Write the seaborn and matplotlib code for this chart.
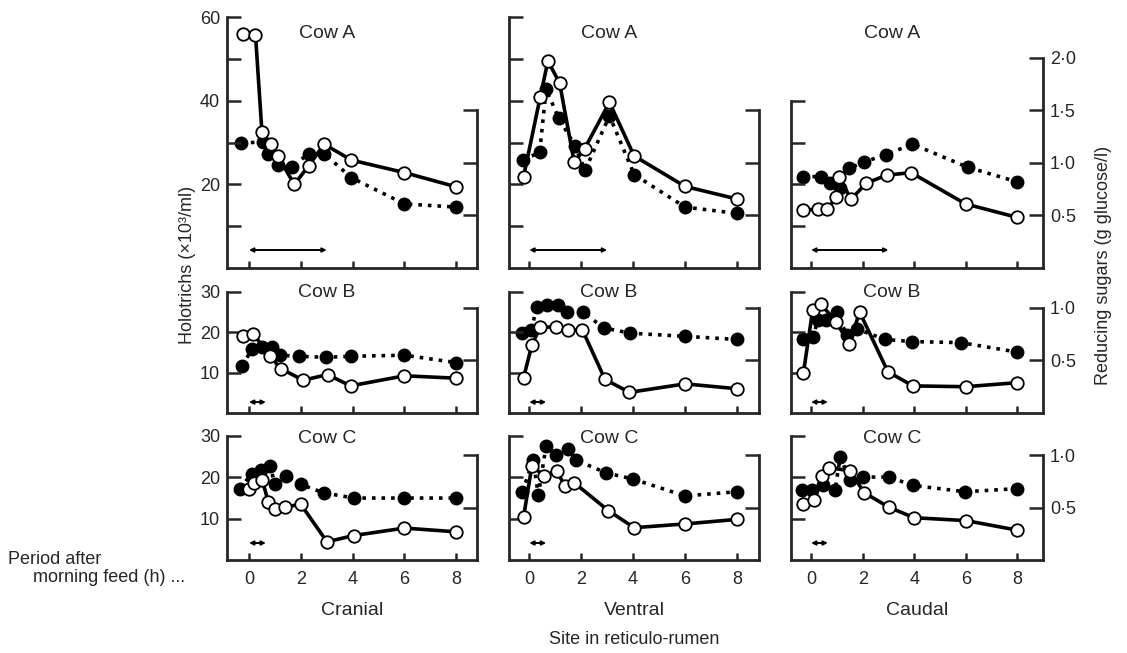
import matplotlib
matplotlib.use('Agg')
import matplotlib.pyplot as plt
import seaborn as sns

sites = ['Cranial', 'Ventral', 'Caudal']
cows = ['Cow A', 'Cow B', 'Cow C']

# open circles / solid line = holotrichs (x10^3/ml, left axis)
# filled circles / dotted line = reducing sugars (g glucose/l, right axis)
a_cranial_holo_t = [-0.25, 0.25, 0.5, 0.85, 1.1, 1.75, 2.3, 2.9, 3.95, 6, 8]
a_cranial_holo = [55.9, 55.7, 32.4, 29.6, 26.8, 20.0, 24.4, 29.6, 25.8, 22.8, 19.4]
a_cranial_sug_t = [-0.3, 0.55, 0.75, 1.1, 1.65, 2.3, 2.9, 3.95, 6, 8]
a_cranial_sug = [1.19, 1.20, 1.09, 0.98, 0.96, 1.09, 1.09, 0.86, 0.61, 0.58]

a_ventral_holo_t = [-0.22, 0.42, 0.72, 1.17, 1.73, 2.13, 3.09, 4.04, 6, 8]
a_ventral_holo = [21.8, 40.8, 49.5, 44.2, 25.3, 28.5, 39.6, 26.8, 19.5, 16.5]
a_ventral_sug_t = [-0.24, 0.4, 0.65, 1.13, 1.77, 2.15, 3.09, 4.04, 6, 8]
a_ventral_sug = [1.03, 1.10, 1.70, 1.43, 1.16, 0.93, 1.45, 0.89, 0.58, 0.52]

a_caudal_holo_t = [-0.3, 0.26, 0.63, 0.97, 1.1, 1.55, 2.14, 2.94, 3.88, 6, 8]
a_caudal_holo = [13.9, 14.0, 14.0, 16.9, 21.7, 16.4, 20.3, 22.2, 22.8, 15.3, 12.1]
a_caudal_sug_t = [-0.32, 0.39, 0.74, 1.13, 1.49, 2.06, 2.91, 3.93, 6.07, 8]
a_caudal_sug = [0.87, 0.87, 0.81, 0.76, 0.95, 1.01, 1.08, 1.18, 0.96, 0.82]

b_cranial_holo_t = [-0.24, 0.17, 0.81, 1.22, 2.09, 3.03, 3.92, 6, 8]
b_cranial_holo = [19.1, 19.5, 14.1, 11.0, 8.1, 9.5, 6.7, 9.2, 8.6]
b_cranial_sug_t = [-0.28, 0.13, 0.51, 0.9, 1.19, 1.94, 2.96, 3.95, 6, 8]
b_cranial_sug = [0.45, 0.61, 0.63, 0.63, 0.55, 0.54, 0.53, 0.54, 0.55, 0.48]

b_ventral_holo_t = [-0.22, 0.1, 0.42, 1.03, 1.49, 2.05, 2.92, 3.86, 6, 8]
b_ventral_holo = [8.7, 16.8, 21.2, 21.3, 20.5, 20.5, 8.3, 5.1, 7.2, 6.0]
b_ventral_sug_t = [-0.26, 0.08, 0.29, 0.68, 1.09, 1.47, 2.06, 2.88, 3.88, 6, 8]
b_ventral_sug = [0.76, 0.79, 1.01, 1.03, 1.03, 0.96, 0.96, 0.81, 0.76, 0.73, 0.70]

b_caudal_holo_t = [-0.3, 0.06, 0.38, 0.97, 1.49, 1.88, 2.98, 3.95, 6, 8]
b_caudal_holo = [9.8, 25.4, 26.9, 22.5, 17.0, 25.0, 10.2, 6.7, 6.5, 7.5]
b_caudal_sug_t = [-0.32, 0.09, 0.25, 0.58, 1.0, 1.39, 1.77, 2.87, 3.91, 5.81, 8]
b_caudal_sug = [0.70, 0.72, 0.89, 0.89, 0.96, 0.74, 0.80, 0.70, 0.68, 0.67, 0.58]

c_cranial_holo_t = [0.0, 0.19, 0.51, 0.74, 1.0, 1.38, 1.99, 3.01, 4.04, 6, 8]
c_cranial_holo = [17.1, 18.5, 19.3, 14.1, 12.2, 12.7, 13.5, 4.4, 5.9, 7.7, 6.8]
c_cranial_sug_t = [-0.36, 0.1, 0.45, 0.81, 1.0, 1.44, 1.99, 2.88, 4.04, 6, 8]
c_cranial_sug = [0.68, 0.82, 0.86, 0.90, 0.72, 0.80, 0.72, 0.64, 0.59, 0.59, 0.59]

c_ventral_holo_t = [-0.22, 0.1, 0.58, 1.06, 1.38, 1.74, 3.05, 4.04, 6, 8]
c_ventral_holo = [10.3, 22.7, 20.3, 21.5, 17.8, 18.6, 11.9, 7.8, 8.7, 9.8]
c_ventral_sug_t = [-0.26, 0.15, 0.35, 0.65, 1.04, 1.51, 1.81, 2.96, 4.01, 6, 8]
c_ventral_sug = [0.65, 0.95, 0.62, 1.09, 1.0, 1.06, 0.95, 0.83, 0.77, 0.61, 0.65]

c_caudal_holo_t = [-0.32, 0.12, 0.41, 0.71, 1.51, 2.07, 3.03, 4.0, 6.02, 8]
c_caudal_holo = [13.5, 14.5, 20.2, 22.3, 21.5, 16.2, 12.7, 10.2, 9.5, 7.2]
c_caudal_sug_t = [-0.36, 0.03, 0.48, 0.93, 1.13, 1.51, 2.03, 3.03, 3.95, 5.98, 8]
c_caudal_sug = [0.67, 0.67, 0.71, 0.67, 0.98, 0.76, 0.79, 0.79, 0.71, 0.65, 0.68]

# feeding period arrows (h) per row
feed_start = [0, 0, 0]
feed_end = [3, 0.65, 0.65]

# axis tops per panel (row x col)
holo_top = [[60, 60, 40], [30, 30, 30], [30, 30, 30]]
sug_top = [[1.5, 1.5, 2.0], [1.0, 1.0, 1.0], [1.0, 1.0, 1.0]]
x_ticks = [0, 2, 4, 6, 8]

panels = {
    (0, 0): (a_cranial_holo_t, a_cranial_holo, a_cranial_sug_t, a_cranial_sug),
    (0, 1): (a_ventral_holo_t, a_ventral_holo, a_ventral_sug_t, a_ventral_sug),
    (0, 2): (a_caudal_holo_t, a_caudal_holo, a_caudal_sug_t, a_caudal_sug),
    (1, 0): (b_cranial_holo_t, b_cranial_holo, b_cranial_sug_t, b_cranial_sug),
    (1, 1): (b_ventral_holo_t, b_ventral_holo, b_ventral_sug_t, b_ventral_sug),
    (1, 2): (b_caudal_holo_t, b_caudal_holo, b_caudal_sug_t, b_caudal_sug),
    (2, 0): (c_cranial_holo_t, c_cranial_holo, c_cranial_sug_t, c_cranial_sug),
    (2, 1): (c_ventral_holo_t, c_ventral_holo, c_ventral_sug_t, c_ventral_sug),
    (2, 2): (c_caudal_holo_t, c_caudal_holo, c_caudal_sug_t, c_caudal_sug),
}

sns.set_style('ticks')
plt.rcParams['font.family'] = ['Liberation Sans', 'DejaVu Sans']

W, H = 1127, 653
fig = plt.figure(figsize=(W / 100, H / 100), dpi=100)

# panel boxes in pixels
col_px = [(227, 477), (509, 759), (791, 1043)]
row_px = [(17, 268), (288, 413), (434, 560)]
xlims = [(-0.85, 8.8), (-0.78, 8.85), (-0.78, 9.0)]
holo_ylim = [60, 30.9, 30.4]
sug_ylim = [2.39, 1.19, 1.2]
arrow_y = [4.3, 2.7, 4.1]


def fmt(v):
    return f'{v:.1f}'.replace('.', '\u00b7')


for (r, c), (ht, hv, st, sv) in panels.items():
    x0, x1 = col_px[c]
    y0, y1 = row_px[r]
    rect = [x0 / W, 1 - y1 / H, (x1 - x0) / W, (y1 - y0) / H]
    ax = fig.add_axes(rect)
    ax2 = ax.twinx()
    ax.set_zorder(ax2.get_zorder() + 1)
    ax.patch.set_visible(False)

    sns.lineplot(x=st, y=sv, ax=ax2, sort=False, estimator=None,
                 color='black', lw=2.6, linestyle=':', marker='o',
                 markersize=9, markerfacecolor='black',
                 markeredgecolor='black', markeredgewidth=1)
    sns.lineplot(x=ht, y=hv, ax=ax, sort=False, estimator=None,
                 color='black', lw=2.6, marker='o', markersize=9,
                 markerfacecolor='white', markeredgecolor='black',
                 markeredgewidth=1.3)

    ax.set_xlim(*xlims[c])
    ax.set_ylim(0, holo_ylim[r])
    ax2.set_ylim(0, sug_ylim[r])

    for a in (ax, ax2):
        a.spines['top'].set_visible(False)
        a.spines['bottom'].set_linewidth(2)
    ax.spines['right'].set_visible(False)
    ax2.spines['left'].set_visible(False)
    ax2.spines['bottom'].set_visible(False)
    ax.spines['left'].set_linewidth(2)
    ax2.spines['right'].set_linewidth(2)
    ax.spines['left'].set_bounds(0, holo_top[r][c])
    ax2.spines['right'].set_bounds(0, sug_top[r][c])

    lt = list(range(10, int(holo_top[r][c]) + 1, 10))
    ax.set_yticks(lt)
    if c == 0:
        if r == 0:
            ax.set_yticklabels([str(v) if v % 20 == 0 else '' for v in lt])
        else:
            ax.set_yticklabels([str(v) for v in lt])
    else:
        ax.set_yticklabels([])

    rt = [0.5 * k for k in range(1, int(round(sug_top[r][c] / 0.5)) + 1)]
    ax2.set_yticks(rt)
    ax2.set_yticklabels([fmt(v) for v in rt] if c == 2 else [])

    ax.set_xticks(x_ticks)
    ax.set_xticklabels([str(v) for v in x_ticks] if r == 2 else [])
    ax.tick_params(axis='y', direction='in', length=10, width=1.8,
                   labelsize=13, pad=5)
    ax2.tick_params(axis='y', direction='in', length=10, width=1.8,
                    labelsize=13, pad=5)
    ax.tick_params(axis='x', direction='in', length=5, width=1.8,
                   labelsize=13, pad=8)
    ax.set_xlabel('')
    ax.set_ylabel('')
    ax2.set_ylabel('')

    ax.text(0.4, 0.965 if r else 0.935, cows[r], transform=ax.transAxes,
            ha='center', va='center', fontsize=14)
    ax.annotate('', xy=(feed_end[r], arrow_y[r]),
                xytext=(feed_start[r], arrow_y[r]),
                arrowprops=dict(arrowstyle='<|-|>', color='black', lw=1.4,
                                mutation_scale=6, shrinkA=0, shrinkB=0))

    if r == 2:
        ax.set_xlabel(sites[c], fontsize=14, labelpad=10)

fig.text(187 / W, 1 - 265 / H, 'Holotrichs (\u00d710\u00b3/ml)', rotation=90,
         ha='center', va='center', fontsize=13)
fig.text(1103 / W, 1 - 265 / H, 'Reducing sugars (g glucose/l)', rotation=90,
         ha='center', va='center', fontsize=13)
fig.text(8 / W, 1 - 560 / H, 'Period after', ha='left', va='center',
         fontsize=13)
fig.text(33 / W, 1 - 578 / H, 'morning feed (h) ...', ha='left',
         va='center', fontsize=13)
fig.text(634 / W, 1 - 640 / H, 'Site in reticulo-rumen', ha='center',
         va='center', fontsize=13)

fig.savefig('out.png', dpi=100)
